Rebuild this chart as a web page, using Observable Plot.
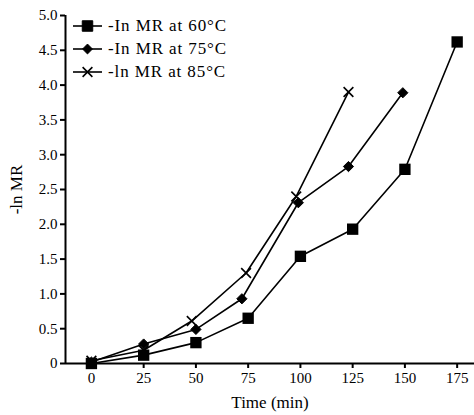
<!DOCTYPE html>
<html>
<head>
<meta charset="utf-8">
<script src="https://cdn.jsdelivr.net/npm/d3@7"></script>
<script src="https://cdn.jsdelivr.net/npm/@observablehq/plot@0.6"></script>
<style>
  html, body { margin: 0; padding: 0; background: #fff; }
  #wrap { position: relative; width: 474px; height: 415px; font-family: "Liberation Serif", "Times New Roman", serif; }
  #legend { position: absolute; left: 73px; top: 14.5px; font-size: 17px; letter-spacing: 0.9px; color: #000; }
  #legend .row { display: flex; align-items: center; height: 23px; white-space: nowrap; }
  #legend svg { margin-right: 5px; }
</style>
</head>
<body>
<div id="wrap"><div id="legend"></div></div>
<script>
// Data
const seriesNames = ["-In MR at 60°C", "-In MR at 75°C", "-ln MR at 85°C"];
const seriesSymbols = ["square", "diamond2", "times"];
const time60 = [0, 25, 50, 75, 100, 125, 150, 175];
const mr60   = [0, 0.12, 0.30, 0.65, 1.54, 1.93, 2.79, 4.62];
const time75 = [0, 25, 50, 72, 99, 123, 149];
const mr75   = [0.02, 0.28, 0.49, 0.93, 2.31, 2.83, 3.89];
const time85 = [0, 25, 48, 74, 98, 123];
const mr85   = [0.04, 0.19, 0.61, 1.30, 2.40, 3.90];
const xTicks = [0, 25, 50, 75, 100, 125, 150, 175];
const yTicks = [0, 0.5, 1.0, 1.5, 2.0, 2.5, 3.0, 3.5, 4.0, 4.5, 5.0];
const xDomain = [-12.4, 183.3];
const yDomain = [0, 5];

const rows = [];
[[time60, mr60], [time75, mr75], [time85, mr85]].forEach(([t, v], i) => {
  t.forEach((tt, j) => rows.push({series: seriesNames[i], time: tt, mr: v[j]}));
});

const font = `"Liberation Serif", "Times New Roman", serif`;

const chart = Plot.plot({
  width: 474,
  height: 415,
  marginLeft: 65,
  marginRight: 0,
  marginTop: 15,
  marginBottom: 52,
  style: {fontFamily: font, fontSize: "15px", background: "transparent", overflow: "visible"},
  x: {domain: xDomain},
  y: {domain: yDomain},
  symbol: {domain: seriesNames, range: seriesSymbols},
  marks: [
    Plot.axisX({ticks: xTicks, tickSize: 5, strokeWidth: 2, tickPadding: 4, fontSize: 15, letterSpacing: 0.6,
      label: "Time (min)", labelAnchor: "center", labelArrow: "none", labelOffset: 44, tickFormat: d => String(d)}),
    Plot.axisY({ticks: yTicks, tickSize: 5, strokeWidth: 2, tickPadding: 3, fontSize: 15, letterSpacing: 0.6,
      label: "-ln MR", labelAnchor: "center", labelArrow: "none", labelOffset: 56,
      tickFormat: d => d === 0 ? "0" : d.toFixed(1)}),
    Plot.ruleY([yDomain[0]], {strokeWidth: 2}),
    Plot.ruleX([xDomain[0]], {strokeWidth: 2}),
    Plot.line(rows, {x: "time", y: "mr", z: "series", stroke: "black", strokeWidth: 1.6}),
    Plot.dot(rows.filter(d => d.series === seriesNames[0]), {x: "time", y: "mr", symbol: "series", fill: "black", r: 6.4}),
    Plot.dot(rows.filter(d => d.series === seriesNames[1]), {x: "time", y: "mr", symbol: "series", fill: "black", stroke: "black", strokeWidth: 1, r: 4.6}),
    Plot.dot(rows.filter(d => d.series === seriesNames[2]), {x: "time", y: "mr", symbol: "series", stroke: "black", strokeWidth: 1.6, r: 4.5})
  ]
});
chart.querySelectorAll("[aria-label='y-axis label'] text, [aria-label='x-axis label'] text").forEach(t => {
  t.setAttribute("font-size", "17");
});
document.getElementById("wrap").prepend(chart);

// Legend (HTML, drawn with d3 symbols)
const legend = d3.select("#legend");
const symMap = {square: d3.symbolSquare, diamond2: d3.symbolDiamond2, times: d3.symbolTimes};
const symSize = {square: 110, diamond2: 62, times: 64};
seriesNames.forEach((name, i) => {
  const row = legend.append("div").attr("class", "row");
  const svg = row.append("svg").attr("width", 30).attr("height", 14);
  svg.append("line").attr("x1", 0).attr("x2", 29).attr("y1", 7).attr("y2", 7).attr("stroke", "black").attr("stroke-width", 1.6);
  const s = seriesSymbols[i];
  svg.append("path").attr("transform", "translate(14.5,7)")
    .attr("d", d3.symbol(symMap[s], symSize[s])())
    .attr("fill", s === "times" ? "none" : "black")
    .attr("stroke", "black").attr("stroke-width", s === "times" ? 1.6 : 1);
  row.append("span").text(name);
});
</script>
</body>
</html>
